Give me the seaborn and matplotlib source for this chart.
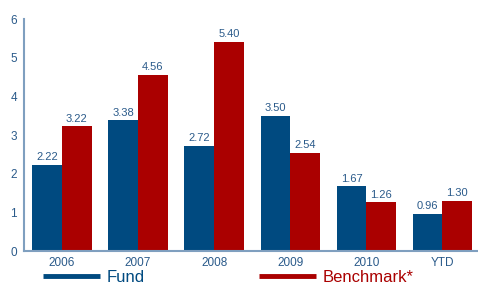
import matplotlib
matplotlib.use("Agg")
import matplotlib.pyplot as plt
import pandas as pd
import seaborn as sns

periods = ["2006", "2007", "2008", "2009", "2010", "YTD"]
fund = [2.22, 3.38, 2.72, 3.50, 1.67, 0.96]
benchmark = [3.22, 4.56, 5.40, 2.54, 1.26, 1.30]
series_names = ["Fund", "Benchmark*"]

FUND_C = "#004a80"
BENCH_C = "#aa0000"
AXIS_C = "#7f9fbf"
TEXT_C = "#2a5a8a"

df = pd.DataFrame({
    "period": periods * 2,
    "value": fund + benchmark,
    "series": [series_names[0]] * len(periods) + [series_names[1]] * len(periods),
})

sns.set_style("white")
plt.rcParams["font.family"] = ["Liberation Sans", "DejaVu Sans"]

fig = plt.figure(figsize=(4.78, 2.85), dpi=100)
ax = fig.add_axes([24 / 478, 1 - 251 / 285, 1.005 - 24 / 478, (251 - 19) / 285])

sns.barplot(data=df, x="period", y="value", hue="series", order=periods,
            hue_order=series_names, palette=[FUND_C, BENCH_C],
            width=0.78, gap=0, saturation=1, linewidth=0, ax=ax, legend=False)

for container in ax.containers:
    ax.bar_label(container, fmt="%.2f", padding=2, fontsize=8, color=TEXT_C)

ax.set_xlim(-0.5, 5.5)
ax.set_ylim(0, 6)
ax.set_yticks(range(0, 7))
ax.set_xlabel("")
ax.set_ylabel("")
ax.tick_params(axis="both", length=0, labelsize=8.5, labelcolor=TEXT_C)
ax.tick_params(axis="y", pad=5)
ax.tick_params(axis="x", pad=4)
for side in ["top", "right"]:
    ax.spines[side].set_visible(False)
for side in ["left", "bottom"]:
    ax.spines[side].set_color(AXIS_C)
    ax.spines[side].set_linewidth(1.5)

# legend along the bottom edge, kept just inside the figure
handles = [plt.Line2D([], [], color=FUND_C, lw=3.5, solid_capstyle="butt"),
           plt.Line2D([], [], color=BENCH_C, lw=3.5, solid_capstyle="butt")]
fig.legend(handles, series_names, loc="upper left", bbox_to_anchor=(43 / 478, 1 - 270 / 285),
           ncol=2, frameon=False, fontsize=12, handlelength=3.4, handletextpad=0.4,
           columnspacing=6.9, borderpad=0, borderaxespad=0, labelcolor="linecolor")

fig.savefig("out.png", dpi=100)
